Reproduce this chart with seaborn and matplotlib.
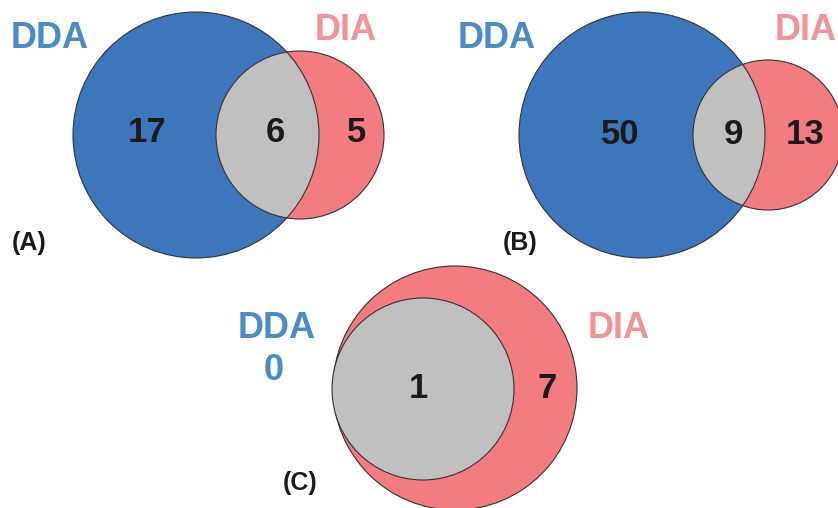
import matplotlib
matplotlib.use("Agg")
import matplotlib.pyplot as plt
from matplotlib.patches import Circle
import seaborn as sns

# Data: counts per region of each Venn panel
panels = ["(A)", "(B)", "(C)"]
set_names = ["DDA", "DIA"]
only_dda = [17, 50, 0]
both = [6, 9, 1]
only_dia = [5, 13, 7]

# Colours
blue = "#3d76bb"
red = "#f27c81"
grey = "#c0c0c0"
blue_txt = "#4a8bcb"
red_txt = "#f2939a"
edge = "#333333"

sns.set_theme(style="white")
plt.rcParams['font.family'] = ['Liberation Sans', 'DejaVu Sans']

fig = plt.figure(figsize=(8.38, 5.08), dpi=100)
ax = fig.add_axes([0, 0, 1, 1])
ax.set_xlim(0, 838)
ax.set_ylim(508, 0)
ax.set_aspect("equal")
ax.axis("off")

# layout in pixel units: (dda centre, dda radius, dia centre, dia radius)
layout = [
    ((196, 135), 123, (300, 135), 84),
    ((642, 135), 123, (768, 135), 75),
    ((423, 389), 91, (455, 388), 122),
]

def venn2(i):
    (c1, r1, c2, r2) = layout[i]
    if only_dda[i] > 0:
        ax.add_patch(Circle(c1, r1, fc=blue, ec="none", zorder=1))
        ax.add_patch(Circle(c2, r2, fc=red, ec="none", zorder=1))
        # overlap = dia circle clipped by dda circle
        clip = Circle(c1, r1, transform=ax.transData)
        g = Circle(c2, r2, fc=grey, ec="none", zorder=2)
        ax.add_patch(g)
        g.set_clip_path(clip)
        # outlines on top
        ax.add_patch(Circle(c1, r1, fc="none", ec=edge, lw=0.8, zorder=3))
        ax.add_patch(Circle(c2, r2, fc="none", ec=edge, lw=0.8, zorder=3))
    else:
        # DDA set fully inside DIA
        ax.add_patch(Circle(c2, r2, fc=red, ec=edge, lw=0.8, zorder=1))
        ax.add_patch(Circle(c1, r1, fc=grey, ec=edge, lw=0.8, zorder=2))

for i in range(3):
    venn2(i)

num_kw = dict(fontsize=25, fontweight="bold", color="#1a1a1a", ha="center", va="center", zorder=5)
name_kw = dict(fontsize=26, fontweight="bold", ha="center", va="center", zorder=5)
tag_kw = dict(fontsize=18, fontweight="bold", color="#1a1a1a", ha="center", va="center", zorder=5)

# Panel A
ax.text(147, 133, str(only_dda[0]), **num_kw)
ax.text(275, 133, str(both[0]), **num_kw)
ax.text(357, 133, str(only_dia[0]), **num_kw)
ax.text(50, 38, set_names[0], color=blue_txt, **name_kw)
ax.text(346, 30, set_names[1], color=red_txt, **name_kw)
ax.text(29, 243, panels[0], **tag_kw)

# Panel B
ax.text(620, 135, str(only_dda[1]), **num_kw)
ax.text(733, 135, str(both[1]), **num_kw)
ax.text(805, 135, str(only_dia[1]), **num_kw)
ax.text(497, 38, set_names[0], color=blue_txt, **name_kw)
ax.text(806, 30, set_names[1], color=red_txt, **name_kw)
ax.text(520, 243, panels[1], **tag_kw)

# Panel C
ax.text(418, 388, str(both[2]), **num_kw)
ax.text(547, 388, str(only_dia[2]), **num_kw)
ax.text(277, 328, set_names[0], color=blue_txt, **name_kw)
ax.text(274, 370, str(only_dda[2]), color=blue_txt, **name_kw)
ax.text(619, 328, set_names[1], color=red_txt, **name_kw)
ax.text(300, 483, panels[2], **tag_kw)

fig.savefig("out.png", dpi=100)
